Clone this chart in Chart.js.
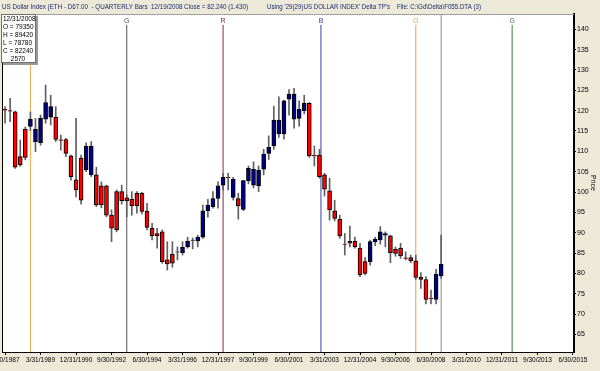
<!DOCTYPE html>
<html>
<head>
<meta charset="utf-8">
<style>
  html, body { margin: 0; padding: 0; background: #ece9d8; }
  #wrap { width: 600px; height: 371px; }
</style>
<script src="https://cdn.jsdelivr.net/npm/chart.js@4.4.1/dist/chart.umd.min.js"></script>
</head>
<body>
<div id="wrap"><canvas id="dxChart" width="600" height="371"></canvas></div>
<script>
// quarterly bars, index 0 = 6/30/1987, last = 12/31/2008
const opens = [
  120.3, 120.0, 119.7, 108.7, 115.4, 116.1, 112.4, 112.1, 117.9, 118.4,
  118.4, 112.8, 112.9, 108.9, 103.0, 108.3, 105.4, 104.2, 104.2, 101.5,
  101.5, 94.3, 100.1, 100.1, 98.6, 98.2, 99.7, 99.7, 95.3, 91.1,
  89.8, 90.2, 83.3, 84.7, 85.3, 85.1, 86.5, 88.2, 88.0, 88.9,
  95.4, 96.4, 98.4, 101.7, 103.6, 98.7, 98.4, 95.7, 102.8, 101.7,
  101.5, 105.6, 109.5, 111.3, 114.3, 114.3, 122.8, 117.9, 118.1, 120.0,
  121.8, 109.0, 109.1, 104.2, 100.3, 95.4, 93.3, 87.2, 87.9, 87.9,
  86.2, 82.9, 82.9, 87.8, 88.2, 89.4, 89.2, 85.9, 86.2, 83.8,
  83.9, 83.1, 79.0, 78.5, 73.9, 73.6, 79.35
];
const highs = [
  121.0, 123.0, 119.9, 112.8, 116.0, 119.7, 118.1, 118.9, 126.3, 123.8,
  121.0, 114.0, 113.2, 109.1, 118.1, 109.1, 112.1, 112.4, 106.1, 102.5,
  101.7, 95.6, 100.5, 101.7, 99.3, 100.1, 100.1, 99.9, 97.2, 92.3,
  91.1, 90.7, 87.8, 87.8, 86.5, 87.8, 88.9, 88.7, 89.4, 96.8,
  98.2, 100.1, 102.5, 104.6, 104.6, 103.6, 99.7, 102.9, 106.4, 107.4,
  106.4, 110.5, 113.8, 121.1, 123.4, 122.6, 125.2, 125.5, 122.4, 123.8,
  122.0, 111.3, 110.5, 104.6, 103.4, 98.0, 94.3, 89.8, 91.6, 88.9,
  87.4, 83.9, 88.2, 88.9, 91.5, 90.2, 89.4, 86.5, 87.4, 85.3,
  84.5, 84.5, 80.2, 79.2, 75.9, 81.0, 89.42
];
const lows = [
  116.9, 117.3, 105.8, 106.3, 107.9, 115.1, 109.9, 111.5, 116.9, 116.5,
  112.4, 110.3, 108.7, 102.9, 98.8, 97.0, 105.0, 103.8, 96.4, 96.1,
  93.9, 87.8, 90.2, 97.0, 93.9, 94.3, 94.8, 94.6, 90.7, 88.2,
  86.2, 82.5, 80.8, 81.5, 83.3, 84.5, 86.2, 86.0, 86.5, 88.6,
  93.8, 96.0, 96.0, 100.5, 100.5, 98.0, 93.3, 95.4, 102.0, 101.0,
  100.1, 104.2, 108.0, 110.5, 113.4, 113.0, 118.9, 115.7, 116.2, 119.2,
  108.5, 106.4, 103.4, 99.0, 93.1, 92.9, 88.6, 84.5, 86.5, 86.2,
  79.2, 79.6, 82.0, 86.8, 87.2, 86.5, 82.6, 84.2, 83.7, 83.3,
  82.6, 78.5, 76.3, 72.5, 72.5, 72.5, 78.78
];
const closes = [
  120.1, 119.9, 106.1, 106.7, 108.5, 117.9, 115.4, 118.1, 122.0, 121.0,
  112.9, 112.7, 109.5, 103.8, 100.5, 98.0, 111.3, 111.3, 96.8, 96.8,
  94.3, 91.1, 90.7, 97.9, 97.9, 96.6, 96.6, 95.2, 91.3, 89.2,
  89.2, 82.9, 82.3, 82.5, 85.2, 86.4, 87.9, 88.1, 88.9, 95.4,
  96.8, 98.4, 101.5, 103.6, 103.5, 103.1, 96.6, 102.8, 105.8, 105.6,
  105.4, 109.3, 111.0, 117.7, 117.7, 122.4, 124.1, 124.1, 120.3, 121.8,
  108.9, 108.9, 103.8, 100.7, 95.6, 93.5, 89.2, 87.1, 87.4, 86.5,
  79.6, 80.0, 87.8, 88.4, 90.2, 89.8, 85.1, 84.9, 84.3, 83.7,
  83.1, 79.0, 78.5, 73.6, 73.8, 79.8, 82.24
];

// x tick labels, one every 7 quarters starting at bar 0
const dateTicks = [
  '6/30/1987', '3/31/1989', '12/31/1990', '9/30/1992', '6/30/1994', '3/31/1996',
  '12/31/1997', '9/30/1999', '6/30/2001', '3/31/2003', '12/31/2004', '9/30/2006',
  '6/30/2008', '3/31/2010', '12/31/2011', '9/30/2013', '6/30/2015'
];

// turning point markers (in bar units)
const markerPos = [5, 24, 43, 62.3, 81, 86, 100];
const markerText = ['', 'G', 'R', 'B', 'O', '', 'G'];
const markerColors = ['#f0a848', '#505050', '#8c2838', '#3c3ca8', '#e8a040', '#8c8c8c', '#3c7a3c'];

const lastDate = '12/31/2008';
const lastExtra = '2570';

const Y_MIN = 60.67, Y_MAX = 143.76;
const FONT = 'Liberation Sans, Arial, sans-serif';

const idx = opens.map((_, i) => i);
const last = opens.length - 1;

const markerSets = markerPos.map((p, k) => ({
  type: 'line',
  data: [{ x: p, y: Y_MIN }, { x: p, y: k === 5 ? Y_MAX : 141.1 }],
  borderColor: markerColors[k],
  borderWidth: 1,
  pointRadius: 0,
  order: 3
}));

const decor = {
  id: 'decor',
  beforeDraw(chart) {
    const { ctx, chartArea: a } = chart;
    ctx.save();
    ctx.fillStyle = '#ece9d8';
    ctx.fillRect(0, 0, chart.width, chart.height);
    ctx.fillStyle = '#ffffff';
    ctx.fillRect(a.left, a.top, a.right - a.left, a.bottom - a.top);
    ctx.restore();
  },
  afterDraw(chart) {
    const { ctx, chartArea: a } = chart;
    const xs = chart.scales.x;
    ctx.save();
    // frame
    ctx.strokeStyle = '#000';
    ctx.lineWidth = 1;
    ctx.beginPath();
    ctx.moveTo(a.left + 0.5, a.top);
    ctx.lineTo(a.left + 0.5, a.bottom);
    ctx.stroke();
    ctx.strokeStyle = '#a0a0a0';
    ctx.beginPath();
    ctx.moveTo(a.left, a.top + 0.5);
    ctx.lineTo(a.right, a.top + 0.5);
    ctx.stroke();

    // header text
    ctx.font = '7px ' + FONT;
    ctx.fillStyle = '#1c2a70';
    ctx.textBaseline = 'middle';
    ctx.textAlign = 'left';
    ctx.fillText('US Dollar Index (ETH - D67.00  - QUARTERLY Bars  12/19/2008 Close = 82.240 (1.430)', 2, 7, 246);
    ctx.fillText("Using '29(29)US DOLLAR INDEX' Delta TP's    File: C:\\Gd\\Delta\\F055.DTA (3)", 267, 7, 214);

    // marker letters
    ctx.textAlign = 'center';
    markerPos.forEach((p, k) => {
      if (!markerText[k]) return;
      ctx.fillStyle = markerColors[k];
      ctx.fillText(markerText[k], xs.getPixelForValue(p), 21);
    });

    // last bar info box
    ctx.fillStyle = '#9a9a9a';
    ctx.fillRect(3, 16, 35, 49);
    ctx.fillStyle = '#fff';
    ctx.fillRect(1, 14, 35, 49);
    ctx.strokeStyle = '#707070';
    ctx.strokeRect(1.5, 14.5, 34, 48);
    ctx.fillStyle = '#000';
    ctx.font = '6.5px ' + FONT;
    ctx.textAlign = 'left';
    const info = [
      lastDate,
      'O = ' + Math.round(opens[last] * 1000),
      'H = ' + Math.round(highs[last] * 1000),
      'L = ' + Math.round(lows[last] * 1000),
      'C = ' + Math.round(closes[last] * 1000)
    ];
    info.forEach((t, i) => ctx.fillText(t, 3, 19.5 + i * 7.9));
    ctx.textAlign = 'center';
    ctx.fillText(lastExtra, 18, 59);
    ctx.restore();
  }
};

const ctx = document.getElementById('dxChart').getContext('2d');

const chart = new Chart(ctx, {
  type: 'bar',
  data: {
    datasets: [
      {
        label: 'wick',
        data: idx.map(i => ({ x: i, y: [lows[i], highs[i]] })),
        backgroundColor: '#606060',
        borderWidth: 0,
        barThickness: 1,
        grouped: false,
        order: 2
      },
      {
        label: 'body',
        data: idx.map(i => ({ x: i, y: [opens[i], closes[i]] })),
        backgroundColor: idx.map(i => closes[i] >= opens[i] ? '#000080' : '#ff0000'),
        borderColor: '#000',
        borderWidth: 1,
        borderSkipped: false,
        barThickness: 4,
        grouped: false,
        order: 1
      },
      ...markerSets
    ]
  },
  options: {
    responsive: false,
    devicePixelRatio: 1,
    animation: false,
    layout: { padding: { left: 2, top: 14, right: 0, bottom: 0 } },
    plugins: {
      legend: { display: false },
      tooltip: { enabled: false }
    },
    scales: {
      x: {
        type: 'linear',
        min: -0.6,
        max: 112.2,
        offset: false,
        afterFit: s => { s.height = 19; s.paddingLeft = 0; s.paddingRight = 0; },
        ticks: {
          stepSize: 7,
          includeBounds: false,
          autoSkip: false,
          maxRotation: 0,
          minRotation: 0,
          padding: 1,
          color: '#000',
          font: { size: 6.5, family: FONT },
          callback: v => dateTicks[Math.round(v / 7)]
        },
        grid: { drawOnChartArea: false, drawTicks: true, tickLength: 3, color: '#000', offset: false },
        border: { display: true, color: '#000', width: 1 }
      },
      y: {
        position: 'right',
        min: Y_MIN,
        max: Y_MAX,
        beginAtZero: false,
        afterFit: s => { s.width = 26; s.paddingTop = 0; s.paddingBottom = 0; },
        ticks: {
          stepSize: 5,
          includeBounds: false,
          autoSkip: false,
          padding: 1,
          color: '#000',
          font: { size: 7, family: FONT }
        },
        grid: { drawOnChartArea: false, drawTicks: true, tickLength: 2, color: '#000' },
        border: { display: true, color: '#000', width: 2 },
        title: {
          display: true,
          text: 'Price',
          color: '#000',
          font: { size: 7, family: FONT },
          padding: { top: 3, bottom: 0 }
        }
      }
    }
  },
  plugins: [decor]
});
</script>
</body>
</html>
